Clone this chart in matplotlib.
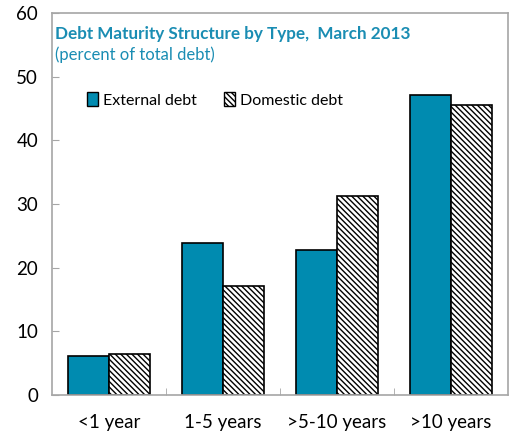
import matplotlib.pyplot as plt
import numpy as np
from matplotlib.patches import Patch

# --- data ---
categories = ["<1 year", "1-5 years", ">5-10 years", ">10 years"]
external = [6.2, 23.9, 22.8, 47.1]
domestic = [6.5, 17.1, 31.2, 45.5]

plt.rcParams['font.family'] = ['Lato', 'DejaVu Sans']
plt.rcParams['hatch.linewidth'] = 1.0
plt.rcParams['hatch.color'] = "#555555"

TEAL = "#008bb0"
GRAY = "#a6a6a6"
HATCH = "\\" * 6

fig = plt.figure(figsize=(5.1, 4.36), dpi=100)
ax = fig.add_axes([0.102, 0.094, 0.894, 0.876])

x = np.arange(len(categories))
w = 0.36
ax.bar(x - w / 2, external, w, color=TEAL, edgecolor="black", linewidth=1.2)
ax.bar(x + w / 2, domestic, w, color="white", edgecolor="black", hatch=HATCH, linewidth=1.2)

ax.set_xlim(-0.5, len(categories) - 0.5)
ax.set_ylim(0, 60)
ax.set_yticks(range(0, 61, 10))
ax.set_xticks(x)
ax.set_xticklabels(categories, fontsize=13.5)
ax.set_xticks(np.arange(0.5, len(categories) - 1, 1), minor=True)
ax.tick_params(axis="x", which="major", length=0, pad=14)
ax.tick_params(axis="x", which="minor", direction="in", length=5, color=GRAY)
ax.tick_params(axis="y", direction="in", length=5, color=GRAY, labelsize=13.5, pad=10)
for s in ax.spines.values():
    s.set_color(GRAY)
    s.set_linewidth(1.2)

ax.text(0.007, 0.945, "Debt Maturity Structure by Type,  March 2013", transform=ax.transAxes,
        color="#1a8db3", fontsize=12.3, fontweight="bold", va="center")
ax.text(0.007, 0.890, "(percent of total debt)", transform=ax.transAxes,
        color="#1a8db3", fontsize=12, va="center")

handles = [Patch(facecolor=TEAL, edgecolor="black", label="External debt"),
           Patch(facecolor="white", edgecolor="black", hatch=HATCH, label="Domestic debt")]
ax.legend(handles=handles, loc="upper left", bbox_to_anchor=(0.045, 0.83), ncol=2, frameon=False,
          fontsize=11.5, handlelength=0.7, handleheight=0.9, handletextpad=0.3, columnspacing=1.7)

fig.savefig("out.png", dpi=100)
